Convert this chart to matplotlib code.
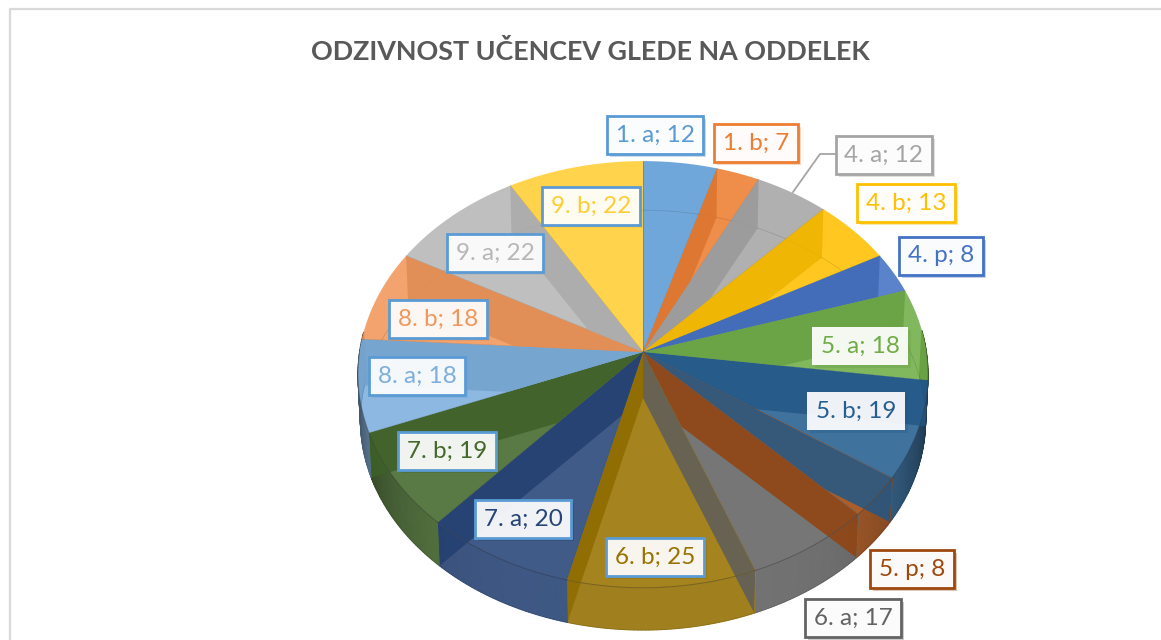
import numpy as np
import matplotlib
matplotlib.use("Agg")
import matplotlib.pyplot as plt
import matplotlib.patheffects as pe
from matplotlib.colors import to_rgb
from matplotlib.patches import Polygon
from matplotlib.path import Path

classes = ["1. a", "1. b", "4. a", "4. b", "4. p", "5. a", "5. b", "5. p",
           "6. a", "6. b", "7. a", "7. b", "8. a", "8. b", "9. a", "9. b"]
values = [12, 7, 12, 13, 8, 18, 19, 8, 17, 25, 20, 19, 18, 18, 22, 22]
colors = ["#5B9BD5", "#ED7D31", "#A5A5A5", "#FFC000", "#4472C4", "#70AD47",
          "#255E91", "#9E480E", "#636363", "#997300", "#264478", "#43682B",
          "#7CAFDD", "#F1975A", "#B7B7B7", "#FFCD33"]

# label boxes, figure pixels (centre x, centre y)
label_pos = [(655, 135), (756, 143), (884, 155), (906, 203), (941, 256), (860, 346),
             (856, 411), (912, 569), (853, 618), (655, 557), (523, 519), (447, 451),
             (417, 376), (438, 319), (495, 253), (591, 206)]
label_edges = ["#5B9BD5", "#ED7D31", "#A5A5A5", "#FFC000", "#4472C4", "none",
               "none", "#9E480E", "#636363", "#5B9BD5", "#5B9BD5", "#5B9BD5",
               "#5B9BD5", "#5B9BD5", "#5B9BD5", "#5B9BD5"]

plt.rcParams["font.family"] = ["Lato", "DejaVu Sans"]

# perspective of the pie disc
CX = 643
PERSP = 0.1053


def project(theta, r, cy, a, b):
    """Clockwise angle from 12 o'clock on the disc -> figure pixels."""
    u = r * np.sin(theta)
    v = r * np.cos(theta)
    w = 1 + PERSP * v
    return CX + b * u / w, cy - a * v / w


def top(theta, r=1.0):
    return project(theta, r, 352, 211, 283.4)


def bottom(theta, r=1.0):
    return project(theta, r, 398, 207.6, 281)


def shade(color, f):
    return tuple(np.array(to_rgb(color)) * f)


def soften(color, f):
    # same look as a face at 0.88 alpha on white, darkened by f
    return tuple(np.array(to_rgb(color)) * f * 0.88 + 0.12 * f)


fig = plt.figure(figsize=(11.61, 6.4), dpi=100)
ax = fig.add_axes([0, 0, 1, 1])
ax.set_xlim(0, 1161)
ax.set_ylim(640, 0)
ax.axis("off")

# chart frame
ax.plot([10, 10, 1161], [640, 9, 9], color="#D9D9D9", lw=1.6, zorder=1)

edges = np.cumsum([0] + values) / sum(values) * 2 * np.pi

# outer wall, darker towards the sides
for i, col in enumerate(colors):
    ts = np.linspace(edges[i], edges[i + 1], int(values[i] * 2) + 2)
    for t0, t1 in zip(ts[:-1], ts[1:]):
        if np.cos((t0 + t1) / 2) > 0.1:
            continue
        xt, yt = top(np.array([t0, t1]))
        xb, yb = bottom(np.array([t1, t0]))
        f = 0.97 - 0.5 * abs(np.sin((t0 + t1) / 2)) ** 5
        c = soften(col, f)
        ax.fill(np.r_[xt, xb], np.r_[yt, yb], facecolor=c, edgecolor=c, lw=0.8, zorder=2)

# top faces
clips = []
for i, col in enumerate(colors):
    ts = np.linspace(edges[i], edges[i + 1], 40)
    x, y = top(ts)
    ax.fill(np.r_[CX, x], np.r_[352, y], facecolor=col, edgecolor="none", alpha=0.88, zorder=3)
    ax.plot(np.r_[CX, x[0]], np.r_[352, y[0]], color=shade(col, 0.7), lw=0.5, alpha=0.6, zorder=5)

    # face plus its outer wall, the inner wall bands stay inside that
    xb, yb = bottom(ts[::-1])
    face = np.c_[np.r_[CX, x, CX], np.r_[352, y, 352]]
    wall = np.c_[np.r_[x, xb, x[0]], np.r_[y, yb, y[0]]]
    clips.append(Path.make_compound_path(Path(face, closed=True), Path(wall, closed=True)))

# floor of the pie seen through the faces
for i, col in enumerate(colors):
    ts = np.linspace(edges[i], edges[i + 1], 40)
    x, y = bottom(ts)
    ax.plot(x, y, color=shade(col, 0.5), lw=0.6, alpha=0.22, zorder=4)

# inner walls: later slice on the far side, earlier slice on the near side
for i in range(1, len(values)):
    t = edges[i]
    col = colors[i] if t < np.radians(100) else colors[i - 1]
    home = i if t < np.pi else i - 1
    xt, yt = top(t)
    xb, yb = bottom(t)
    band = Polygon([[CX, 352], [xt, yt], [xb, yb], [CX, 398]], facecolor=shade(col, 0.93),
                   edgecolor="none", alpha=0.85, zorder=5)
    ax.add_patch(band)
    band.set_clip_path(clips[home], ax.transData)

# rim line
ts = np.linspace(np.pi / 2, 3 * np.pi / 2, 200)
x, y = top(ts)
ax.plot(x, y, color="#404040", lw=0.7, alpha=0.4, zorder=6)

# leader of the 4. a label
ax.plot([793, 820, 838], [192, 154, 154], color="#A5A5A5", lw=1.3, zorder=6)

for cls, val, col, pos, ec in zip(classes, values, colors, label_pos, label_edges):
    txt = ax.text(pos[0], pos[1], f"{cls}; {val}", color=col, fontsize=17.5,
                  ha="center", va="center", zorder=7,
                  bbox=dict(boxstyle="square,pad=0.36", facecolor=(1, 1, 1, 0.93),
                            edgecolor=ec, linewidth=2))
    shadow = pe.SimplePatchShadow(offset=(2, -2), shadow_rgbFace=shade(col, 0.9), alpha=0.3)
    txt.get_bbox_patch().set_path_effects([shadow, pe.Normal()])

ax.text(590, 51, "ODZIVNOST UČENCEV GLEDE NA ODDELEK", color="#595959", fontsize=19.4,
        fontweight="bold", ha="center", va="center", zorder=7)

fig.savefig("out.png", dpi=100)
